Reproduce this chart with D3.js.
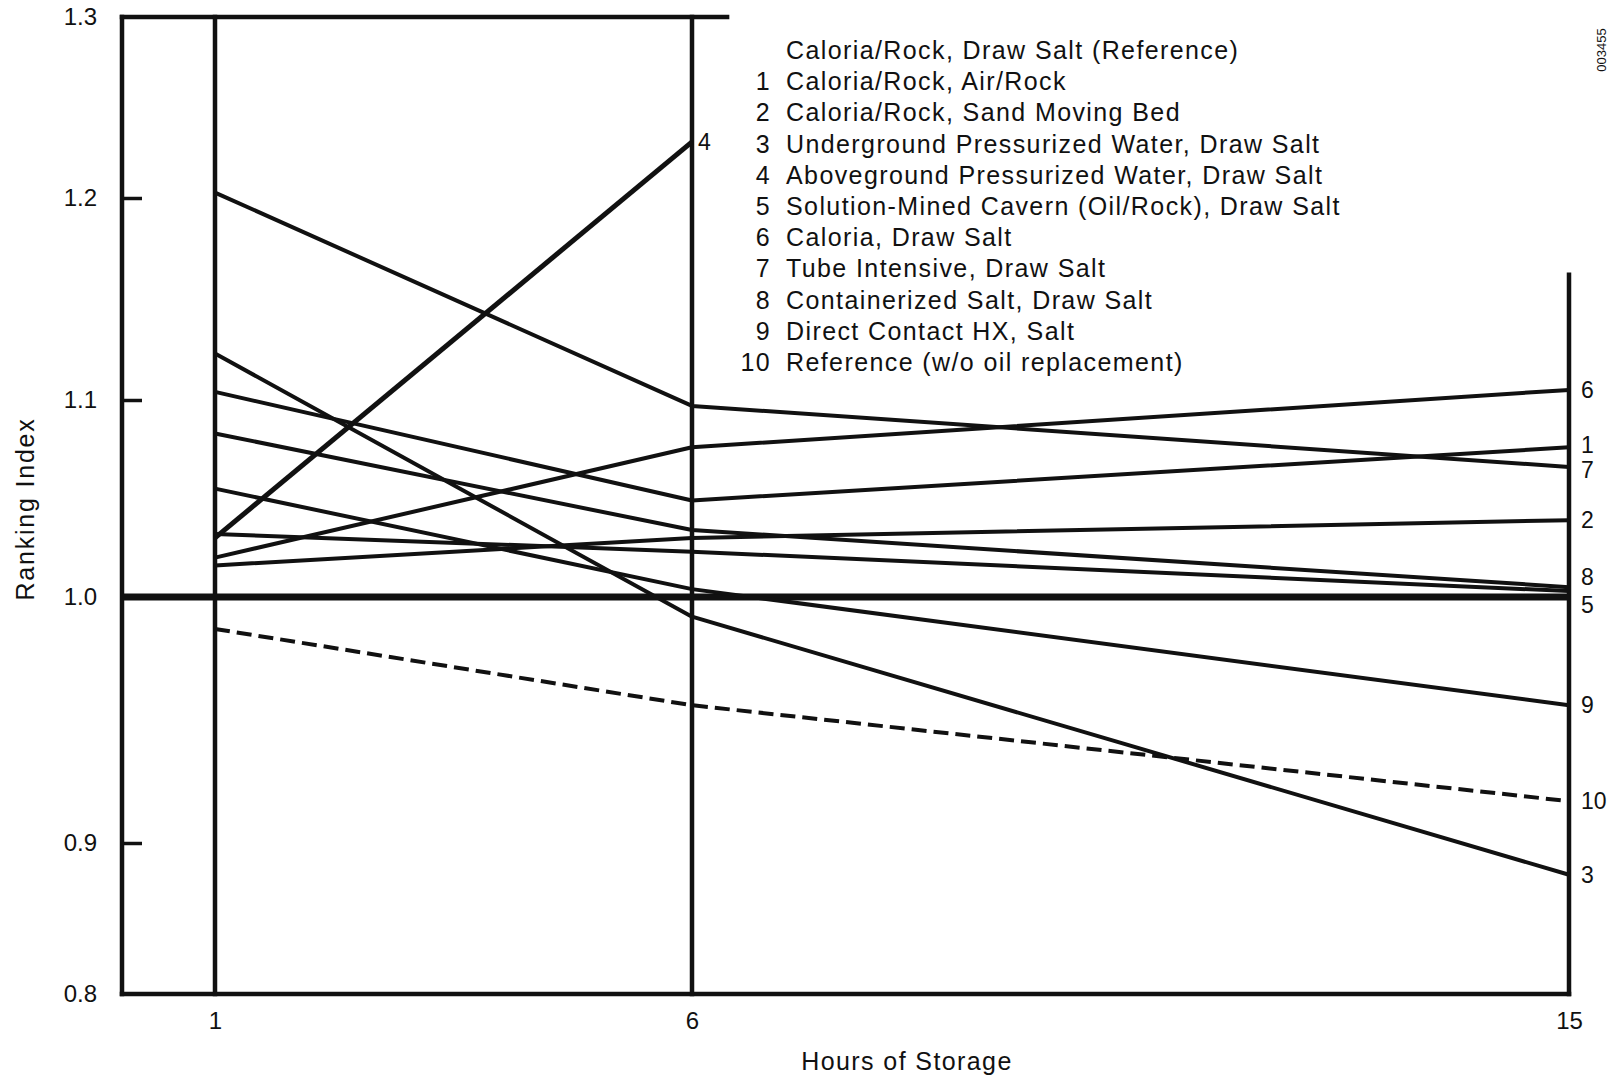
<!DOCTYPE html>
<html>
<head>
<meta charset="utf-8">
<script src="https://cdn.jsdelivr.net/npm/d3@7"></script>
<style>
  html, body { margin: 0; padding: 0; background: #fff; }
  svg { display: block; font-family: "Liberation Sans", Arial, Helvetica, sans-serif; }
</style>
</head>
<body>
<svg id="chart" width="1622" height="1078"></svg>
<script>
// ---------- data ----------
const hours = [1, 6, 15];
const xTickValues = [1, 6, 15];
const yTickValues = [0.8, 0.9, 1.0, 1.1, 1.2, 1.3];
const yTickLabels = ["0.8", "0.9", "1.0", "1.1", "1.2", "1.3"];

const referenceHours = [0, 1, 6, 15];
const referenceValues = [1.0, 1.0, 1.0, 1.0];

const s1 = [1.104, 1.049, 1.076];
const s2 = [1.016, 1.030, 1.039];
const s3 = [1.123, 0.992, 0.879];
const s4 = [1.030, 1.231];
const s5 = [1.032, 1.023, 1.003];
const s6 = [1.020, 1.076, 1.105];
const s7 = [1.203, 1.097, 1.066];
const s8 = [1.083, 1.034, 1.005];
const s9 = [1.055, 1.004, 0.956];
const s10 = [0.987, 0.956, 0.917];

const seriesIds = ["1", "2", "3", "4", "5", "6", "7", "8", "9", "10"];
const seriesValues = [s1, s2, s3, s4, s5, s6, s7, s8, s9, s10];

const legendNumbers = ["", "1", "2", "3", "4", "5", "6", "7", "8", "9", "10"];
const legendNames = [
  "Caloria/Rock, Draw Salt (Reference)",
  "Caloria/Rock, Air/Rock",
  "Caloria/Rock, Sand Moving Bed",
  "Underground Pressurized Water, Draw Salt",
  "Aboveground Pressurized Water, Draw Salt",
  "Solution-Mined Cavern (Oil/Rock), Draw Salt",
  "Caloria, Draw Salt",
  "Tube Intensive, Draw Salt",
  "Containerized Salt, Draw Salt",
  "Direct Contact HX, Salt",
  "Reference (w/o oil replacement)"
];

const xTitle = "Hours of Storage";
const yTitle = "Ranking Index";
const docCode = "003455";

// ---------- layout ----------
const ink = "#111";
const svg = d3.select("#chart");
svg.append("rect").attr("width", 1622).attr("height", 1078).attr("fill", "#fff");

const x = d3.scaleLinear().domain([0, 1, 6, 15]).range([122, 215, 692, 1569]);
const y = d3.scaleLinear().domain(yTickValues).range([994, 843, 597, 400, 198, 17]);

const frameTopEnd = 6.36;      // hours: top border runs slightly past the 6-hour line
const rightLineTop = 1.162;    // value where the 15-hour line starts

// ---------- axes ----------
const yAxis = d3.axisLeft(y)
  .tickValues(yTickValues)
  .tickFormat((d, i) => yTickLabels[i])
  .tickSizeInner(-20)
  .tickSizeOuter(0)
  .tickPadding(25);
const gy = svg.append("g").attr("transform", `translate(${x(0)},0)`).call(yAxis);
gy.select(".domain").remove();
gy.selectAll(".tick line").attr("stroke", ink).attr("stroke-width", 3.5)
  .attr("display", d => (d === 1.1 || d === 1.2 || d === 0.9) ? null : "none");
gy.selectAll(".tick text").attr("fill", ink).style("font-size", "24px")
  .style("font-family", "'Liberation Sans', Arial, sans-serif");

const xAxis = d3.axisBottom(x).tickValues(xTickValues).tickSize(0).tickPadding(18).tickFormat(d3.format("d"));
const gx = svg.append("g").attr("transform", `translate(0,${y(0.8)})`).call(xAxis);
gx.select(".domain").remove();
gx.selectAll(".tick text").attr("fill", ink).style("font-size", "24px")
  .style("font-family", "'Liberation Sans', Arial, sans-serif");

// ---------- frame ----------
const frame = svg.append("g").attr("stroke", ink).attr("stroke-width", 4.5).attr("stroke-linecap", "square").attr("fill", "none");
frame.append("line").attr("x1", x(0)).attr("x2", x(0)).attr("y1", y(1.3)).attr("y2", y(0.8));
frame.append("line").attr("x1", x(0)).attr("x2", x(frameTopEnd)).attr("y1", y(1.3)).attr("y2", y(1.3));
frame.append("line").attr("x1", x(0)).attr("x2", x(15)).attr("y1", y(0.8)).attr("y2", y(0.8));
frame.append("line").attr("x1", x(1)).attr("x2", x(1)).attr("y1", y(1.3)).attr("y2", y(0.8));
frame.append("line").attr("x1", x(6)).attr("x2", x(6)).attr("y1", y(1.3)).attr("y2", y(0.8));
frame.append("line").attr("x1", x(15)).attr("x2", x(15)).attr("y1", y(rightLineTop)).attr("y2", y(0.8));

// ---------- lines ----------
const line = d3.line().x((d, i) => x(hours[i])).y(d => y(d));
const lines = svg.append("g").attr("fill", "none").attr("stroke", ink).attr("stroke-linejoin", "round");

lines.append("path")
  .datum(referenceValues)
  .attr("d", d3.line().x((d, i) => x(referenceHours[i])).y(d => y(d)))
  .attr("stroke-width", 7);

seriesValues.forEach((vals, k) => {
  const id = seriesIds[k];
  lines.append("path")
    .datum(vals)
    .attr("d", line)
    .attr("stroke-width", id === "4" ? 5 : 4)
    .attr("stroke-dasharray", id === "10" ? "15,7" : null);
});

// ---------- series labels ----------
const labelNudge = { "8": -10, "5": 14, "1": -2, "7": 3 };
const labels = svg.append("g").attr("fill", ink).style("font-size", "23px");
seriesValues.forEach((vals, k) => {
  const id = seriesIds[k];
  const last = vals.length - 1;
  labels.append("text")
    .attr("x", x(hours[last]) + (last === 2 ? 12 : 6))
    .attr("y", y(vals[last]) + (labelNudge[id] || 0))
    .attr("dominant-baseline", "central")
    .text(id);
});

// ---------- legend ----------
const row = d3.scaleLinear().domain([0, legendNames.length - 1]).range([50, 362]);
const legend = svg.append("g").attr("fill", ink).style("font-size", "25px").style("letter-spacing", "1.4px");
legendNames.forEach((name, i) => {
  legend.append("text").attr("x", 771).attr("y", row(i)).attr("text-anchor", "end")
    .attr("dominant-baseline", "central").text(legendNumbers[i]);
  legend.append("text").attr("x", 786).attr("y", row(i))
    .attr("dominant-baseline", "central").text(name);
});

// ---------- titles ----------
svg.append("text").attr("x", 907).attr("y", 1061).attr("text-anchor", "middle")
  .attr("dominant-baseline", "central").attr("fill", ink)
  .style("font-size", "25px").style("letter-spacing", "1.4px").text(xTitle);
svg.append("text").attr("transform", "translate(25,509) rotate(-90)").attr("text-anchor", "middle")
  .attr("dominant-baseline", "central").attr("fill", ink)
  .style("font-size", "25px").style("letter-spacing", "1.8px").text(yTitle);
svg.append("text").attr("transform", "translate(1601,50) rotate(-90)").attr("text-anchor", "middle")
  .attr("dominant-baseline", "central").attr("fill", ink)
  .style("font-size", "13px").text(docCode);
</script>
</body>
</html>
